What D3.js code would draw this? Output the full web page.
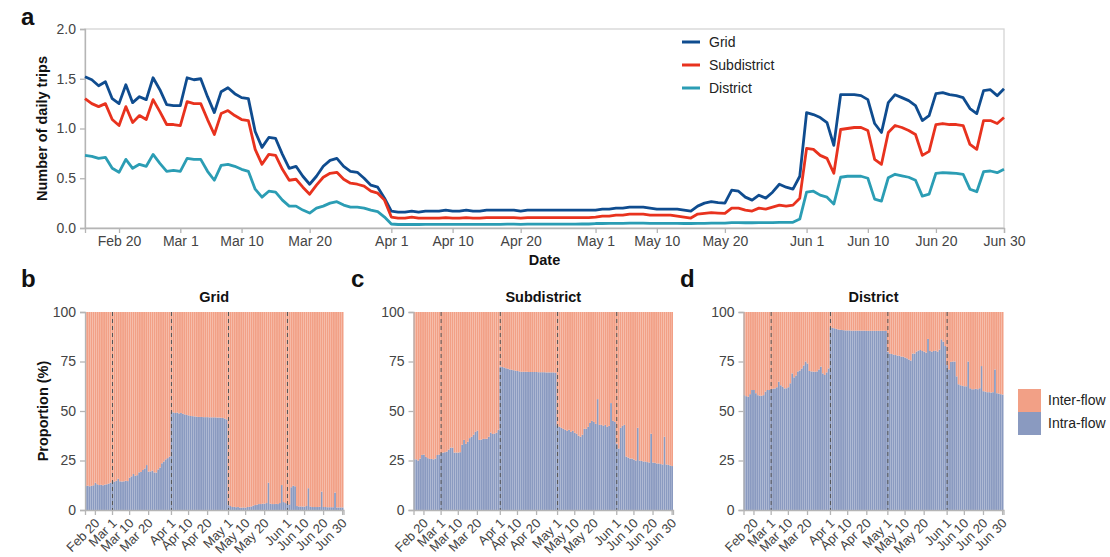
<!DOCTYPE html>
<html>
<head>
<meta charset="utf-8">
<script src="https://cdn.jsdelivr.net/npm/d3@7"></script>
<style>
  html, body { margin: 0; padding: 0; background: #fff; }
  svg { display: block; font-family: "Liberation Sans", Arial, sans-serif; }
</style>
</head>
<body>
<svg id="chart" width="1110" height="557"></svg>
<script>
// Daily series, 15 Feb 2022 – 30 Jun 2022 (136 days)
const startDate = "2022-02-15";

const gridTrips = [
  1.52,1.49,1.43,1.47,1.30,1.25,1.44,1.26,1.32,1.29,1.51,1.39,1.24,1.23,
  1.23,1.51,1.49,1.50,1.32,1.16,1.37,1.41,1.35,1.31,1.30,0.97,0.81,0.91,0.90,0.74,0.60,0.62,0.52,0.44,0.52,0.62,0.68,0.70,0.62,0.57,0.56,0.50,0.43,0.41,0.30,
  0.17,0.16,0.16,0.17,0.16,0.17,0.17,0.17,0.18,0.17,0.17,0.18,0.17,0.17,0.18,0.18,0.18,0.18,0.18,0.17,0.18,0.18,0.18,0.18,0.18,0.18,0.18,0.18,0.18,0.18,
  0.18,0.19,0.19,0.20,0.20,0.21,0.21,0.21,0.20,0.19,0.19,0.19,0.19,0.18,0.17,0.22,0.25,0.265,0.255,0.25,0.38,0.37,0.31,0.28,0.33,0.30,0.36,0.44,0.41,0.39,0.52,
  1.16,1.14,1.11,1.06,0.83,1.34,1.34,1.34,1.33,1.29,1.05,0.96,1.26,1.34,1.31,1.28,1.23,1.08,1.13,1.35,1.36,1.34,1.33,1.31,1.20,1.15,1.38,1.39,1.33,1.40
];

const subdistrictTrips = [
  1.30,1.25,1.22,1.25,1.09,1.03,1.22,1.06,1.13,1.09,1.29,1.17,1.04,1.04,
  1.03,1.27,1.25,1.25,1.09,0.94,1.15,1.18,1.13,1.09,1.08,0.79,0.64,0.74,0.73,0.59,0.48,0.49,0.41,0.34,0.43,0.51,0.55,0.56,0.49,0.45,0.44,0.42,0.37,0.35,0.28,
  0.11,0.10,0.10,0.11,0.10,0.10,0.10,0.10,0.105,0.10,0.10,0.105,0.10,0.10,0.105,0.105,0.105,0.105,0.105,0.10,0.105,0.105,0.105,0.105,0.105,0.105,0.105,0.105,0.105,0.105,
  0.11,0.12,0.12,0.13,0.13,0.14,0.14,0.14,0.13,0.13,0.13,0.13,0.12,0.11,0.10,0.14,0.147,0.154,0.15,0.147,0.20,0.20,0.18,0.17,0.20,0.19,0.21,0.23,0.22,0.23,0.30,
  0.80,0.79,0.73,0.70,0.55,0.99,1.00,1.01,1.01,0.98,0.69,0.64,0.96,1.03,1.01,0.98,0.94,0.73,0.77,1.04,1.05,1.04,1.04,1.03,0.84,0.79,1.08,1.08,1.05,1.11
];

const districtTrips = [
  0.73,0.72,0.70,0.71,0.60,0.56,0.69,0.60,0.64,0.62,0.74,0.65,0.57,0.58,
  0.57,0.70,0.69,0.69,0.57,0.48,0.63,0.64,0.62,0.59,0.57,0.39,0.31,0.37,0.36,0.28,0.22,0.22,0.18,0.15,0.20,0.22,0.25,0.265,0.23,0.21,0.21,0.20,0.18,0.165,0.11,
  0.04,0.035,0.035,0.037,0.035,0.036,0.036,0.036,0.037,0.036,0.036,0.037,0.036,0.036,0.037,0.037,0.037,0.038,0.038,0.037,0.038,0.038,0.038,0.038,0.039,0.039,0.039,0.039,0.04,0.04,
  0.045,0.045,0.046,0.047,0.047,0.048,0.048,0.048,0.047,0.047,0.047,0.047,0.046,0.045,0.045,0.047,0.047,0.048,0.048,0.048,0.054,0.054,0.053,0.053,0.054,0.054,0.055,0.056,0.056,0.058,0.09,
  0.36,0.37,0.33,0.31,0.24,0.51,0.52,0.52,0.52,0.50,0.29,0.27,0.505,0.54,0.525,0.51,0.48,0.32,0.34,0.55,0.556,0.553,0.55,0.54,0.39,0.365,0.566,0.573,0.556,0.59
];

// Share of intra-flow trips (%) — inter-flow is the remainder
const gridIntra = [
  12.1,12.3,12.0,12.2,12.5,13.8,13.0,12.6,12.7,12.5,12.8,13.0,13.3,13.8,
  14.6,14.3,14.8,15.8,14.5,14.4,14.5,14.8,14.6,16.3,17.0,18.2,17.3,17.6,19.0,19.2,20.2,21.0,22.7,19.4,19.5,19.9,19.0,18.9,20.5,21.5,23.6,24.5,25.6,26.2,27.0,
  49.5,49.3,49.0,49.2,48.8,49.0,48.6,48.3,48.0,47.8,47.5,47.4,47.3,47.2,47.0,47.0,47.0,46.9,46.9,46.9,46.8,46.8,46.8,46.8,46.7,46.7,46.6,46.5,46.2,45.8,
  2.5,2.0,1.5,1.6,1.4,1.5,1.2,1.2,1.3,1.2,1.5,1.6,1.8,2.2,2.5,2.7,3.0,3.0,3.2,3.2,3.5,13.8,3.2,3.0,3.0,3.1,3.0,3.5,12.6,4.0,3.5,
  3.0,2.8,11.5,12.3,12.0,2.0,1.8,1.8,1.7,1.7,2.0,11.0,1.8,1.5,1.5,1.5,1.5,1.6,9.3,1.5,1.5,1.4,1.4,1.4,1.4,8.8,1.3,1.3,1.3,1.3
];

const subdistrictIntra = [
  25.6,25.6,25.0,26.0,27.8,28.0,26.8,26.2,25.8,25.8,25.6,26.0,27.8,28.0,
  28.7,29.0,29.2,29.5,30.5,31.5,31.5,29.0,29.0,29.0,29.2,33.0,35.4,33.4,34.5,36.3,37.0,38.0,39.5,40.1,35.4,35.5,35.9,35.9,36.0,37.0,39.1,38.4,38.6,39.0,40.5,
  72.5,72.2,72.0,71.6,71.3,71.0,70.8,70.6,70.4,70.2,70.0,69.8,69.8,69.8,69.8,69.7,69.7,69.7,69.7,69.7,69.6,69.6,69.6,69.6,69.5,69.5,69.5,69.5,69.5,69.3,
  42.5,42.0,41.5,41.0,40.5,40.0,40.5,39.5,40.0,39.0,38.5,37.5,37.0,38.0,41.0,41.0,42.0,44.0,45.0,44.5,43.5,56.0,43.0,43.0,42.5,43.0,42.0,42.5,54.0,45.0,44.5,
  33.5,31.0,41.5,42.5,43.0,27.0,26.5,26.0,26.0,25.5,25.0,41.5,25.0,24.8,24.5,24.5,24.2,24.0,38.5,24.0,23.8,23.5,23.5,23.2,23.0,37.0,23.0,22.8,22.5,22.2
];

const districtIntra = [
  58.0,57.5,57.2,58.5,60.6,60.6,59.0,58.0,57.7,57.7,58.0,59.8,60.6,60.6,
  61.0,61.2,61.4,62.0,64.8,63.0,62.3,61.4,61.5,62.0,64.0,69.0,67.0,68.0,70.0,70.5,71.5,73.0,75.0,74.0,70.2,70.0,69.9,69.8,70.0,71.0,72.4,69.0,68.2,69.5,71.5,
  92.3,92.0,91.8,91.5,91.2,91.0,90.9,90.8,90.7,90.7,90.7,90.6,90.6,90.6,90.6,90.6,90.6,90.6,90.6,90.5,90.5,90.5,90.5,90.5,90.5,90.5,90.5,90.5,90.5,90.4,
  80.0,79.0,78.8,78.5,78.3,78.0,77.9,77.5,77.4,77.0,76.6,76.0,75.5,79.0,79.0,80.0,80.5,80.8,80.3,80.0,79.5,86.4,80.3,80.0,80.3,80.5,80.0,81.0,86.2,85.0,82.8,
  73.2,71.0,74.8,75.0,75.0,67.5,63.5,63.0,62.7,62.5,62.5,75.0,61.5,61.0,61.0,61.2,61.0,61.5,72.7,60.0,59.8,59.5,59.5,59.3,59.5,71.0,59.0,58.8,58.5,58.3
];

const dateTicks = ["Feb 20","Mar 1","Mar 10","Mar 20","Apr 1","Apr 10","Apr 20",
                   "May 1","May 10","May 20","Jun 1","Jun 10","Jun 20","Jun 30"];
const monthStarts = ["Mar 1","Apr 1","May 1","Jun 1"];
const tripTicks = [0, 0.5, 1.0, 1.5, 2.0];
const shareTicks = [0, 25, 50, 75, 100];

const seriesNames = ["Grid","Subdistrict","District"];
const seriesColors = ["#0f4c8f","#e8321e","#2b9db4"];
const flowNames = ["Inter-flow","Intra-flow"];
const flowColors = ["#f2a086","#8a9ac0"];

// ---------------------------------------------------------------
const parseDay = d3.utcParse("%Y-%m-%d");
const parseTick = s => d3.utcParse("%b %d %Y")(s + " 2022");
const fmtTick = d3.utcFormat("%b %-d");
const t0 = parseDay(startDate);
const days = d3.range(gridTrips.length).map(i => d3.utcDay.offset(t0, i));
const dayIndex = d => d3.utcDay.count(t0, d);

const svg = d3.select("#chart");
svg.append("rect").attr("width", 1110).attr("height", 557).attr("fill", "#fff");

const tickColor = "#444";
const axisGrey = "#b5b5b5";

function styleAxis(g, fontSize) {
  g.select(".domain").attr("stroke", axisGrey).attr("stroke-width", 1.3);
  g.selectAll(".tick line").attr("stroke", axisGrey).attr("stroke-width", 1.3);
  g.selectAll(".tick text").attr("fill", tickColor)
    .attr("font-size", fontSize).attr("font-family", "Liberation Sans, Arial, sans-serif");
}

// ---------------- panel a: daily trips ----------------
const ax = { left: 85, right: 1004, top: 29, bottom: 228 };
const x = d3.scaleUtc().domain([t0, days[days.length - 1]]).range([ax.left, ax.right]);
const y = d3.scaleLinear().domain([0, 2]).range([ax.bottom, ax.top]);

const gA = svg.append("g");
// frame
gA.append("rect").attr("x", ax.left).attr("y", ax.top)
  .attr("width", ax.right - ax.left).attr("height", ax.bottom - ax.top)
  .attr("fill", "none").attr("stroke", "#d4d4d4").attr("stroke-width", 1.3);

const xAxisA = gA.append("g").attr("transform", `translate(0,${ax.bottom})`)
  .call(d3.axisBottom(x).tickValues(dateTicks.map(parseTick)).tickFormat(fmtTick)
    .tickSizeOuter(0).tickSize(5).tickPadding(3));
styleAxis(xAxisA, 14);

const yAxisA = gA.append("g").attr("transform", `translate(${ax.left},0)`)
  .call(d3.axisLeft(y).tickValues(tripTicks).tickFormat(d3.format(".1f"))
    .tickSizeOuter(0).tickSize(5).tickPadding(4));
styleAxis(yAxisA, 14);

const line = d3.line().x((d, i) => x(days[i])).y(d => y(d));
[gridTrips, subdistrictTrips, districtTrips].forEach((s, k) => {
  gA.append("path").datum(s).attr("d", line)
    .attr("fill", "none").attr("stroke", seriesColors[k])
    .attr("stroke-width", 2.8).attr("stroke-linejoin", "round");
});

// legend
const legA = gA.append("g");
seriesNames.forEach((n, k) => {
  const ly = 42 + k * 23;
  legA.append("line").attr("x1", 682).attr("x2", 700).attr("y1", ly).attr("y2", ly)
    .attr("stroke", seriesColors[k]).attr("stroke-width", 3);
  legA.append("text").attr("x", 709).attr("y", ly).attr("dy", "0.35em")
    .attr("font-size", 14).attr("fill", "#222").text(n);
});

gA.append("text").attr("transform", `translate(47,${(ax.top + ax.bottom) / 2}) rotate(-90)`)
  .attr("text-anchor", "middle").attr("font-weight", "bold").attr("font-size", 14.5)
  .attr("fill", "#111").text("Number of daily trips");
gA.append("text").attr("x", (ax.left + ax.right) / 2).attr("y", 265)
  .attr("text-anchor", "middle").attr("font-weight", "bold").attr("font-size", 14.5)
  .attr("fill", "#111").text("Date");

// ---------------- panels b–d: intra/inter share ----------------
const by = d3.scaleLinear().domain([0, 100]).range([510, 312]);
const panels = [
  { title: "Grid", data: gridIntra, left: 85, right: 343.5, letter: "b", lx: 21, yTitle: true },
  { title: "Subdistrict", data: subdistrictIntra, left: 413.5, right: 673, letter: "c", lx: 351, yTitle: false },
  { title: "District", data: districtIntra, left: 743.5, right: 1003.5, letter: "d", lx: 680, yTitle: false }
];

panels.forEach(p => {
  const g = svg.append("g");
  const bx = d3.scaleBand().domain(d3.range(p.data.length)).range([p.left, p.right]).paddingInner(0.07).paddingOuter(0);
  const stacked = d3.stack().keys(["intra", "inter"])(p.data.map(v => ({ intra: v, inter: 100 - v })));
  const fills = { intra: flowColors[1], inter: flowColors[0] };
  stacked.forEach(layer => {
    g.append("g").selectAll("rect").data(layer).join("rect")
      .attr("x", (d, i) => bx(i)).attr("width", bx.bandwidth())
      .attr("y", d => by(d[1])).attr("height", d => by(d[0]) - by(d[1]))
      .attr("fill", fills[layer.key]);
  });

  // month boundaries
  g.append("g").selectAll("line").data(monthStarts.map(parseTick)).join("line")
    .attr("x1", d => bx(dayIndex(d)) + bx.bandwidth() / 2)
    .attr("x2", d => bx(dayIndex(d)) + bx.bandwidth() / 2)
    .attr("y1", by(100)).attr("y2", by(0))
    .attr("stroke", "#555").attr("stroke-width", 1).attr("stroke-dasharray", "4,3");

  const yAx = g.append("g").attr("transform", `translate(${p.left},0)`)
    .call(d3.axisLeft(by).tickValues(shareTicks).tickSizeOuter(0).tickSize(5).tickPadding(4));
  styleAxis(yAx, 14);

  const xAx = g.append("g").attr("transform", "translate(0,510)")
    .call(d3.axisBottom(bx).tickValues(dateTicks.map(s => dayIndex(parseTick(s))))
      .tickFormat(i => fmtTick(days[i])).tickSizeOuter(0).tickSize(5));
  styleAxis(xAx, 13);
  xAx.selectAll(".tick text")
    .attr("text-anchor", "end").attr("y", 0).attr("dy", 0)
    .attr("transform", "translate(5,14) rotate(-45)");

  g.append("text").attr("x", (p.left + p.right) / 2).attr("y", 302)
    .attr("text-anchor", "middle").attr("font-weight", "bold").attr("font-size", 14.5)
    .attr("fill", "#111").text(p.title);
  g.append("text").attr("x", p.lx).attr("y", 287)
    .attr("font-weight", "bold").attr("font-size", 24).attr("fill", "#111").text(p.letter);
  if (p.yTitle) {
    g.append("text").attr("transform", `translate(48,411) rotate(-90)`)
      .attr("text-anchor", "middle").attr("font-weight", "bold").attr("font-size", 14.5)
      .attr("fill", "#111").text("Proportion (%)");
  }
});

svg.append("text").attr("x", 21).attr("y", 25)
  .attr("font-weight", "bold").attr("font-size", 24).attr("fill", "#111").text("a");

// flow legend
const legB = svg.append("g");
flowNames.forEach((n, k) => {
  const top = 389 + k * 23;
  legB.append("rect").attr("x", 1018).attr("y", top).attr("width", 23).attr("height", 23)
    .attr("fill", flowColors[k]);
  legB.append("text").attr("x", 1048).attr("y", top + 11.5).attr("dy", "0.35em")
    .attr("font-size", 14).attr("fill", "#222").text(n);
});
</script>
</body>
</html>
